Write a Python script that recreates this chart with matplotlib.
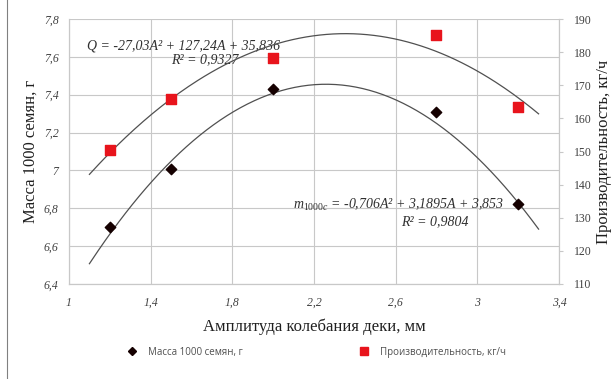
import numpy as np
import matplotlib
matplotlib.use("Agg")
import matplotlib.pyplot as plt
from matplotlib.lines import Line2D

plt.rcParams['mathtext.fontset'] = 'custom'
plt.rcParams['mathtext.rm'] = 'Liberation Serif'
plt.rcParams['mathtext.it'] = 'Liberation Serif:italic'

amplitude = [1.2, 1.5, 2.0, 2.8, 3.2]
mass = [6.70, 7.01, 7.43, 7.31, 6.82]
productivity = [150.5, 166.0, 178.3, 185.3, 163.4]
mass_coef = [-0.706, 3.1895, 3.853]
prod_coef = [-27.03, 127.24, 35.836]
trend_range = [1.1, 3.3]

x_ticks = [1, 1.4, 1.8, 2.2, 2.6, 3.0, 3.4]
x_labels = ['1', '1,4', '1,8', '2,2', '2,6', '3', '3,4']
left_ticks = [6.4, 6.6, 6.8, 7.0, 7.2, 7.4, 7.6, 7.8]
left_labels = ['6,4', '6,6', '6,8', '7', '7,2', '7,4', '7,6', '7,8']
right_ticks = [110, 120, 130, 140, 150, 160, 170, 180, 190]

serif = 'Liberation Serif'
grid_c = '#c8c8c8'
txt_c = '#404040'

fig = plt.figure(figsize=(6.14, 3.79), dpi=100)
ax = fig.add_axes([69/614, 1-284/379, 490/614, 265/379])
ax2 = ax.twinx()

ax.set_xlim(1, 3.4)
ax.set_ylim(6.4, 7.8)
ax2.set_ylim(110, 190)

ax.set_xticks(x_ticks)
ax.set_xticklabels(x_labels, fontfamily=serif, style='italic', fontsize=8.5, color=txt_c)
ax.set_yticks(left_ticks)
ax.set_yticklabels(left_labels, fontfamily=serif, style='italic', fontsize=8.5, color=txt_c)
ax2.set_yticks(right_ticks)
ax2.set_yticklabels([str(t) for t in right_ticks], fontfamily=serif, fontsize=8.5, color=txt_c)

ax.tick_params(axis='y', length=0, pad=7.5)
ax.tick_params(axis='x', length=0, pad=9)
ax2.tick_params(axis='y', length=3, color=grid_c, pad=8, direction='out')

ax.grid(True, color=grid_c, linewidth=0.8)
ax.set_axisbelow(True)
for a in (ax, ax2):
    for s in a.spines.values():
        s.set_color(grid_c)
        s.set_linewidth(0.8)
    a.spines['top'].set_visible(False)

xs = np.linspace(trend_range[0], trend_range[1], 200)
ax.plot(xs, np.polyval(mass_coef, xs), color='#505050', linewidth=0.9, zorder=3)
ax2.plot(xs, np.polyval(prod_coef, xs), color='#505050', linewidth=0.9, zorder=3)

ax.scatter(amplitude, mass, marker='D', s=28, color='#150000', zorder=4)
ax2.scatter(amplitude, productivity, marker='s', s=55, color='#e8141c', zorder=4)

eq_font = dict(fontfamily=serif, style='italic', fontsize=10, color='#303030')
ax.text(0.233, 0.90, 'Q = -27,03A² + 127,24A + 35,836', transform=ax.transAxes,
        ha='center', va='center', **eq_font)
ax.text(0.278, 0.845, 'R² = 0,9327', transform=ax.transAxes, ha='center', va='center', **eq_font)
ax.text(0.672, 0.30, r'$m_{1000c}$ = -0,706A² + 3,1895A + 3,853', transform=ax.transAxes,
        ha='center', va='center', **eq_font)
ax.text(0.747, 0.234, 'R² = 0,9804', transform=ax.transAxes, ha='center', va='center', **eq_font)

ax.set_xlabel('Амплитуда колебания деки, мм', fontfamily=serif, fontsize=12, color='#202020', labelpad=7)
ax.set_ylabel('Масса 1000 семян, г', fontfamily=serif, fontsize=12, color='#202020', labelpad=4)
ax2.set_ylabel('Производительность, кг/ч', fontfamily=serif, fontsize=12, color='#202020', labelpad=3)

h1 = Line2D([], [], marker='D', linestyle='none', markersize=4.5, color='#150000')
h2 = Line2D([], [], marker='s', linestyle='none', markersize=5.5, color='#e8141c')
leg = fig.legend([h1, h2], ['Масса 1000 семян, г', 'Производительность, кг/ч'],
                 loc='center', bbox_to_anchor=(0.5 + 7/614, 1-352/379), ncol=2, frameon=False,
                 prop={'family': 'Open Sans', 'size': 7}, columnspacing=11.5, handletextpad=0.6)
for t in leg.get_texts():
    t.set_color('#505050')

fig.add_artist(Line2D([7/614, 7/614], [0, 1], color='#808080', linewidth=0.8))

fig.savefig('out.png', dpi=100)
